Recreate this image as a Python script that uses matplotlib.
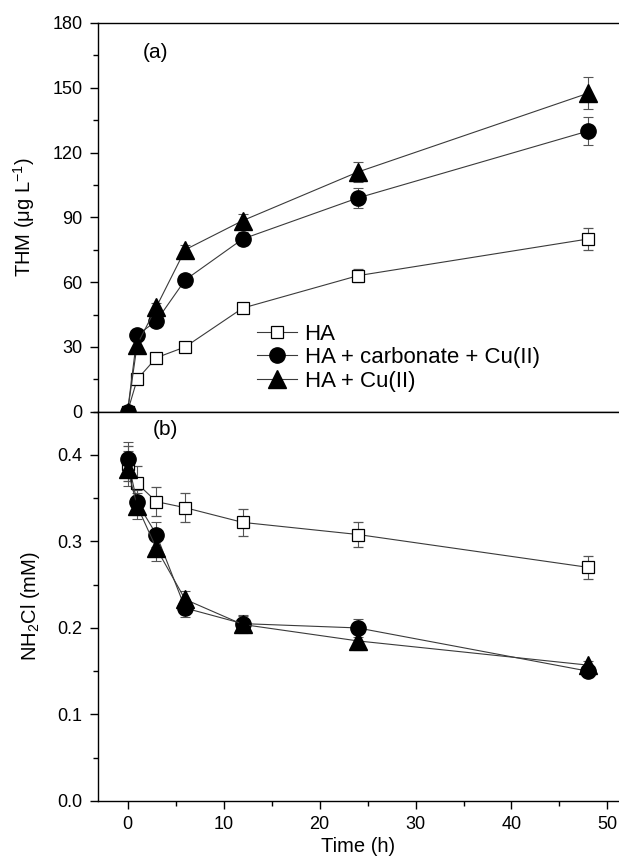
import matplotlib.pyplot as plt
from matplotlib.ticker import MultipleLocator

plt.rcParams["font.family"] = ["Liberation Sans", "DejaVu Sans"]
plt.rcParams["mathtext.default"] = "regular"

time_h = [0, 1, 3, 6, 12, 24, 48]
labels = ["HA", "HA + carbonate + Cu(II)", "HA + Cu(II)"]

# THM (ug/L)
thm_ha = [0, 15, 25, 30, 48, 63, 80]
thm_carb = [0, 35.5, 42, 61, 80, 99, 130]
thm_cu = [0, 31, 48.5, 75, 88.5, 111, 147.5]
thm_ha_err = [0, 2, 2, 2, 2, 3, 5]
thm_carb_err = [0, 2, 2, 2, 3, 4.5, 6.5]
thm_cu_err = [0, 2, 2, 2, 3, 4.5, 7.5]

# NH2Cl (mM)
nh_ha = [0.39, 0.367, 0.346, 0.339, 0.322, 0.308, 0.27]
nh_carb = [0.395, 0.345, 0.308, 0.223, 0.205, 0.2, 0.15]
nh_cu = [0.384, 0.341, 0.292, 0.233, 0.204, 0.185, 0.157]
nh_ha_err = [0.02, 0.02, 0.017, 0.017, 0.016, 0.015, 0.0135]
nh_carb_err = [0.02, 0.015, 0.015, 0.01, 0.01, 0.01, 0.005]
nh_cu_err = [0.02, 0.015, 0.015, 0.01, 0.01, 0.01, 0.005]

styles = [
    dict(marker="s", markersize=9, markerfacecolor="white", markeredgecolor="black", markeredgewidth=0.9),
    dict(marker="o", markersize=11, markerfacecolor="black", markeredgecolor="black"),
    dict(marker="^", markersize=12.5, markerfacecolor="black", markeredgecolor="black"),
]

fig = plt.figure(figsize=(6.19, 8.61), dpi=100)
ax1 = fig.add_axes([0.158, 0.5218, 0.842, 0.4515])
ax2 = fig.add_axes([0.158, 0.0697, 0.842, 0.4522])


def draw(ax, series, errs):
    for y, e, st, lab in zip(series, errs, styles, labels):
        ax.errorbar(time_h, y, yerr=e, color="#3a3a3a", linewidth=0.8,
                    ecolor="#555555", elinewidth=0.8, capsize=3.5, capthick=0.8,
                    label=lab, **st)


draw(ax1, [thm_ha, thm_carb, thm_cu], [thm_ha_err, thm_carb_err, thm_cu_err])
draw(ax2, [nh_ha, nh_carb, nh_cu], [nh_ha_err, nh_carb_err, nh_cu_err])

for ax in (ax1, ax2):
    ax.set_xlim(-3.1, 51.2)
    ax.xaxis.set_major_locator(MultipleLocator(10))
    ax.xaxis.set_minor_locator(MultipleLocator(5))
    ax.spines["right"].set_visible(False)
    for s in ax.spines.values():
        s.set_linewidth(1.0)
    ax.tick_params(which="both", direction="out", labelsize=13, right=False, top=False, pad=5)
    ax.tick_params(which="major", length=6, width=1)
    ax.tick_params(which="minor", length=3.5, width=1)

ax1.set_ylim(0, 180)
ax1.yaxis.set_major_locator(MultipleLocator(30))
ax1.yaxis.set_minor_locator(MultipleLocator(15))
ax1.tick_params(axis="x", which="both", bottom=False, labelbottom=False)
ax1.set_ylabel("THM (μg L$^{-1}$)", fontsize=14.5, labelpad=11)
ax1.text(0.086, 0.923, "(a)", transform=ax1.transAxes, fontsize=15, va="center")

ax2.set_ylim(0, 0.45)
ax2.yaxis.set_major_locator(MultipleLocator(0.1))
ax2.yaxis.set_minor_locator(MultipleLocator(0.05))
ax2.yaxis.set_major_formatter(plt.FormatStrFormatter("%.1f"))
ax2.set_ylabel("NH$_2$Cl (mM)", fontsize=14.5, labelpad=11)
ax2.set_xlabel("Time (h)", fontsize=14.5, labelpad=3)
ax2.text(0.106, 0.953, "(b)", transform=ax2.transAxes, fontsize=15, va="center")

handles, labs = ax1.get_legend_handles_labels()
handles = [h[0] for h in handles]
ax1.legend(handles, labs, loc="center left", bbox_to_anchor=(0.305, 0.139),
           frameon=False, fontsize=16, handlelength=1.8, handletextpad=0.35,
           labelspacing=0.12, borderpad=0, borderaxespad=0)

fig.savefig("out.png", dpi=100)
